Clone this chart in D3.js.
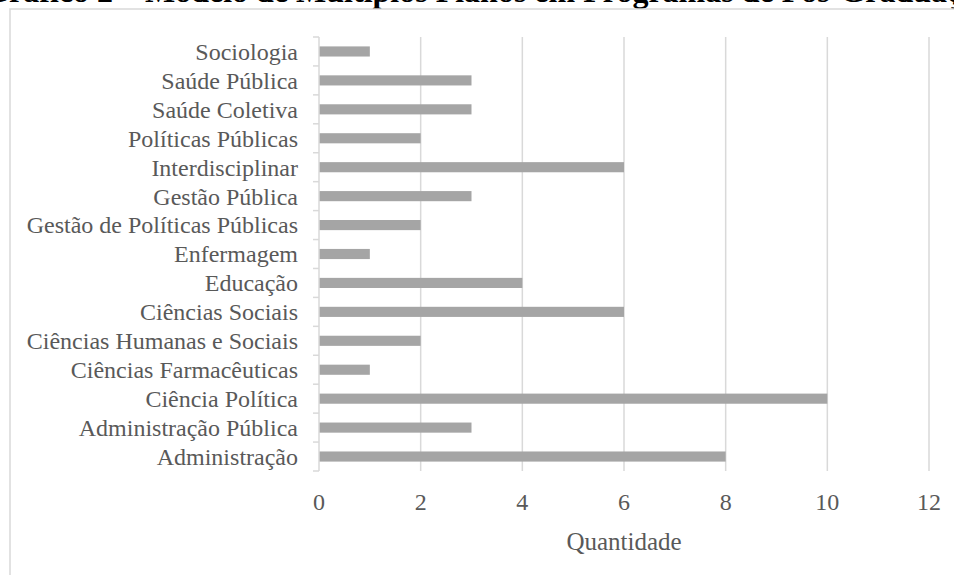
<!DOCTYPE html>
<html>
<head>
<meta charset="utf-8">
<script src="https://cdn.jsdelivr.net/npm/d3@7"></script>
<style>
  body { margin: 0; background: #fff; }
  svg { display: block; }
</style>
</head>
<body>
<div id="chart"></div>
<script>
const width = 954;
const height = 575;
const barGrey = '#a5a5a5';
const gridGrey = '#d9d9d9';
const textGrey = '#595959';
const serif = '"Liberation Serif", "Times New Roman", serif';

// data, top to bottom as drawn
const categories = [
    'Sociologia',
    'Saúde Pública',
    'Saúde Coletiva',
    'Políticas Públicas',
    'Interdisciplinar',
    'Gestão Pública',
    'Gestão de Políticas Públicas',
    'Enfermagem',
    'Educação',
    'Ciências Sociais',
    'Ciências Humanas e Sociais',
    'Ciências Farmacêuticas',
    'Ciência Política',
    'Administração Pública',
    'Administração'
];
const values = [1, 3, 3, 2, 6, 3, 2, 1, 4, 6, 2, 1, 10, 3, 8];
const xTicks = [0, 2, 4, 6, 8, 10, 12];
const titleLead = 'Gráfico 2 – ';
const titleRest = 'Modelo de Múltiplos Planos em Programas de Pós-Graduação';
const axisTitle = 'Quantidade';

buildChart();

function buildChart() {
    const svg = d3.select('#chart')
        .append('svg')
        .attr('width', width)
        .attr('height', height);

    // title, mostly cut off by the top edge
    let title = svg.append('text')
        .attr('y', 2)
        .attr('font-family', serif)
        .attr('font-weight', 'bold')
        .attr('font-size', 32)
        .attr('fill', '#000');
    let lead = title.append('tspan').text(titleLead);
    title.append('tspan').text(titleRest);
    // "Modelo" starts at about x = 145 in the reference
    title.attr('x', 145 - lead.node().getComputedTextLength());

    // chart frame
    svg.append('rect')
        .attr('x', 10)
        .attr('y', 9)
        .attr('width', 1000)
        .attr('height', 700)
        .attr('fill', 'none')
        .attr('stroke', gridGrey)
        .attr('stroke-width', 1.5);

    const x = d3.scaleLinear()
        .domain([0, 12])
        .range([319, 929]);

    const y = d3.scaleBand()
        .domain(categories)
        .range([37, 471])
        .paddingInner(0.65)
        .paddingOuter(0.325);

    // gridlines
    svg.append('g')
        .selectAll('line')
        .data(xTicks.slice(1))
        .join('line')
        .attr('x1', d => x(d))
        .attr('x2', d => x(d))
        .attr('y1', 37)
        .attr('y2', 471)
        .attr('stroke', gridGrey)
        .attr('stroke-width', 1.5);

    // x tick labels
    svg.append('g')
        .selectAll('text')
        .data(xTicks)
        .join('text')
        .attr('x', d => x(d))
        .attr('y', 510)
        .attr('text-anchor', 'middle')
        .attr('font-family', serif)
        .attr('font-size', 24)
        .attr('fill', textGrey)
        .text(d => d);

    svg.append('text')
        .attr('x', (x(0) + x(12)) / 2)
        .attr('y', 550)
        .attr('text-anchor', 'middle')
        .attr('font-family', serif)
        .attr('font-size', 25)
        .attr('fill', textGrey)
        .text(axisTitle);

    // bars
    svg.append('g')
        .selectAll('rect')
        .data(values)
        .join('rect')
        .attr('x', x(0))
        .attr('y', (d, i) => y(categories[i]))
        .attr('width', d => x(d) - x(0))
        .attr('height', y.bandwidth())
        .attr('fill', barGrey);

    // category axis
    const step = y.step();
    const axis = svg.append('g');
    axis.append('line')
        .attr('x1', x(0))
        .attr('x2', x(0))
        .attr('y1', 37)
        .attr('y2', 471)
        .attr('stroke', gridGrey)
        .attr('stroke-width', 1.5);

    axis.selectAll('line.tick')
        .data(d3.range(categories.length + 1))
        .join('line')
        .attr('class', 'tick')
        .attr('x1', x(0) - 6)
        .attr('x2', x(0))
        .attr('y1', i => 37 + i * step)
        .attr('y2', i => 37 + i * step)
        .attr('stroke', gridGrey)
        .attr('stroke-width', 1.5);

    axis.selectAll('text')
        .data(categories)
        .join('text')
        .attr('x', 298)
        .attr('y', d => y(d) + y.bandwidth() / 2)
        .attr('dy', '0.35em')
        .attr('text-anchor', 'end')
        .attr('font-family', serif)
        .attr('font-size', 24)
        .attr('fill', textGrey)
        .text(d => d);
}
</script>
</body>
</html>
